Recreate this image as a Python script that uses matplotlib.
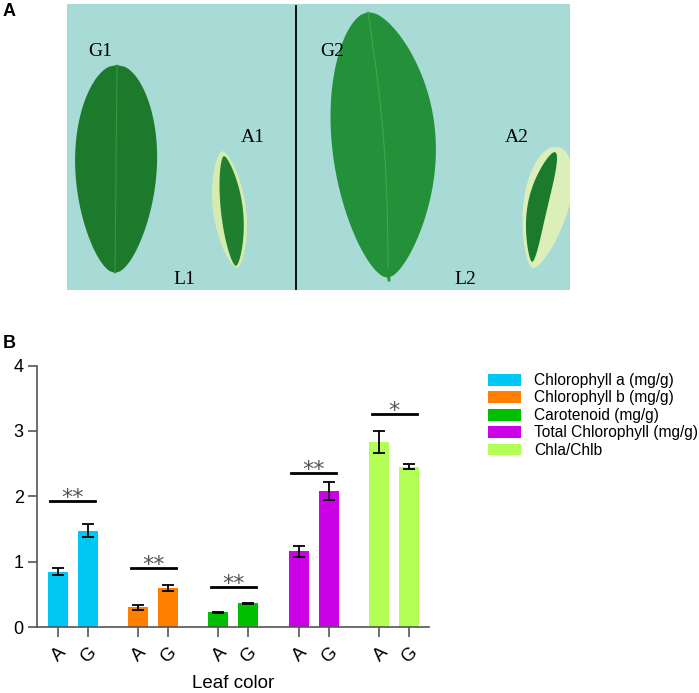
import numpy as np
import matplotlib
matplotlib.use("Agg")
import matplotlib.pyplot as plt
from matplotlib.patches import Polygon, Rectangle, Patch
from matplotlib.transforms import offset_copy

plt.rcParams['font.family'] = ['Liberation Sans', 'DejaVu Sans']

# ---------------- data ----------------
series = ["Chlorophyll a (mg/g)", "Chlorophyll b (mg/g)", "Carotenoid (mg/g)",
          "Total Chlorophyll (mg/g)", "Chla/Chlb"]
leaf_colors = ["A", "G"]
means = [[0.845, 1.47], [0.30, 0.60], [0.227, 0.36], [1.155, 2.08], [2.83, 2.45]]
errors = [[0.05, 0.098], [0.035, 0.05], [0.008, 0.012], [0.077, 0.14], [0.17, 0.04]]
sig_heights = [1.92, 0.91, 0.61, 2.36, 3.26]
sig_labels = ["**", "**", "**", "**", "*"]
colors = ["#00c8f5", "#ff8000", "#00bf00", "#cc00e6", "#b4ff55"]
yticks = [0, 1, 2, 3, 4]

W, H = 699, 693
fig = plt.figure(figsize=(W / 100, H / 100), dpi=100)

def fx(px):
    return px / W

def fy(py):
    return 1 - py / H

# ---------------- panel A (photo approximation) ----------------
pa = fig.add_axes([fx(67), fy(290), fx(570 - 67), (290 - 4) / H])
pa.set_xlim(67, 570)
pa.set_ylim(290, 4)
pa.axis("off")
pa.add_patch(Rectangle((67, 4), 503, 286, color="#a8dbd5", zorder=0))
pa.plot([296, 296], [6, 290], color="black", lw=1.3, zorder=1)

def leaf(ax, top, bottom, width, peak, color, z=2, bulge=0.0, power=0.6):
    t = np.linspace(0, 1, 120)
    top = np.array(top, float)
    bottom = np.array(bottom, float)
    d = bottom - top
    L = np.hypot(*d)
    u = d / L
    n = np.array([-u[1], u[0]])
    a = np.log(0.5) / np.log(peak)
    prof = np.sin(np.pi * t ** a) ** power * width / 2
    center = top[None, :] + t[:, None] * d[None, :] + (bulge * np.sin(np.pi * t))[:, None] * n[None, :]
    left = center + prof[:, None] * n[None, :]
    right = center - prof[:, None] * n[None, :]
    pts = np.vstack([left, right[::-1]])
    ax.add_patch(Polygon(pts, closed=True, color=color, zorder=z, lw=0))
    return center

c1 = leaf(pa, (117, 65), (115, 273), 82, 0.45, "#1d7a2d", power=0.55)
pa.plot(c1[:, 0], c1[:, 1], color="#2f9a3c", lw=0.8, zorder=3)
c2 = leaf(pa, (368, 12), (388, 278), 104, 0.47, "#24903a", bulge=-6, power=0.6)
pa.plot(c2[:, 0], c2[:, 1], color="#3aaa48", lw=0.8, zorder=3)
pa.plot([388, 389], [270, 280], color="#24903a", lw=2, zorder=3)
leaf(pa, (222, 151), (237, 268), 33, 0.5, "#d5ecb0", power=0.6)
leaf(pa, (224, 156), (236, 266), 22, 0.5, "#1f7f2f", z=3, bulge=-2, power=0.6)
leaf(pa, (558, 147), (533, 268), 46, 0.4, "#dcefb8", power=0.6)
leaf(pa, (555, 152), (532, 262), 20, 0.45, "#1c7a2c", z=3, bulge=6, power=0.6)

for txt, x, y in [("G1", 100, 52), ("A1", 253, 138), ("L1", 184, 279),
                  ("G2", 332, 52), ("A2", 517, 137), ("L2", 465, 279)]:
    pa.text(x, y, txt, ha="center", va="center", fontsize=14,
            family=["Liberation Serif", "DejaVu Serif"], zorder=5)

fig.text(fx(3), fy(12), "A", fontsize=13, fontweight="bold", ha="left", va="center")
fig.text(fx(3), fy(343), "B", fontsize=13, fontweight="bold", ha="left", va="center")

# ---------------- panel B ----------------
ax = fig.add_axes([fx(37), fy(627), fx(429 - 37), (627 - 365.5) / H])
group_gap = 2.68
bar_w = 0.667
star_tr = offset_copy(ax.transData, fig=fig, x=0, y=-3, units="dots")
xpos, xlabels = [], []
for g, (m, e) in enumerate(zip(means, errors)):
    x = np.array([g * group_gap, g * group_gap + 1.0])
    ax.bar(x, m, width=bar_w, color=colors[g], zorder=2)
    ax.errorbar(x, m, yerr=e, fmt="none", ecolor="black", elinewidth=1.3,
                capsize=4.5, capthick=1.3, zorder=3)
    xc = x.mean()
    ax.plot([xc - 0.75, xc + 0.75], [sig_heights[g]] * 2, color="black", lw=2, zorder=3)
    ax.text(xc, sig_heights[g], sig_labels[g], ha="center", va="baseline",
            fontsize=16, color="#555555", family=["DejaVu Sans"], transform=star_tr)
    xpos.extend(x)
    xlabels.extend(leaf_colors)

ax.set_xlim(-0.69, 12.38)
ax.set_ylim(0, 4)
ax.set_yticks(yticks)
ax.set_xticks(xpos)
ax.set_xticklabels(xlabels, rotation=45, ha="right", va="top", rotation_mode="anchor")
for s in ["top", "right"]:
    ax.spines[s].set_visible(False)
for s in ["left", "bottom"]:
    ax.spines[s].set_color("#555555")
    ax.spines[s].set_linewidth(1.2)
ax.tick_params(axis="y", direction="out", length=6.5, width=1.2, color="#555555",
               labelsize=13, pad=3)
ax.tick_params(axis="x", direction="out", length=7.2, width=1.2, color="#555555",
               labelsize=13.5, pad=5)
ax.set_xlabel("Leaf color", fontsize=13.5, labelpad=6)

handles = [Patch(facecolor=c, edgecolor="none") for c in colors]
fig.legend(handles, series, loc="upper left", bbox_to_anchor=(fx(488), fy(373)),
           frameon=False, fontsize=11.2, borderpad=0, borderaxespad=0,
           labelspacing=0.16, handlelength=2.1, handleheight=0.8, handletextpad=0.85)

fig.savefig("out.png", dpi=100)
